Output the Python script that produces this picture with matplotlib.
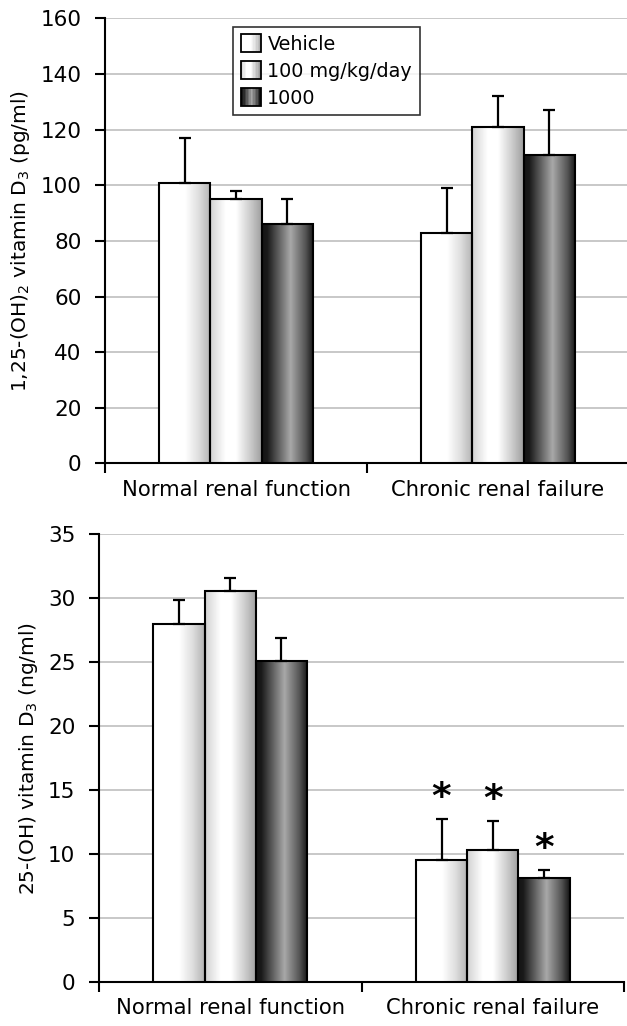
import numpy as np
import matplotlib
matplotlib.use("Agg")
import matplotlib.pyplot as plt
from matplotlib.patches import Rectangle
from matplotlib.legend_handler import HandlerBase

# ---------------- data ----------------
categories = ["Normal renal function", "Chronic renal failure"]
series = ["Vehicle", "100 mg/kg/day", "1000"]

# top panel: 1,25-(OH)2 vitamin D3 (pg/ml)
top_vehicle = [101, 83]
top_100 = [95, 121]
top_1000 = [86, 111]
top_vehicle_err = [16, 16]
top_100_err = [3, 11]
top_1000_err = [9, 16]

# bottom panel: 25-(OH) vitamin D3 (ng/ml)
bot_vehicle = [28.0, 9.5]
bot_100 = [30.6, 10.3]
bot_1000 = [25.1, 8.1]
bot_vehicle_err = [1.9, 3.2]
bot_100_err = [1.0, 2.3]
bot_1000_err = [1.8, 0.6]
# significance markers (1 = marked)
bot_vehicle_sig = [0, 1]
bot_100_sig = [0, 1]
bot_1000_sig = [0, 1]

# ---------------- styling ----------------
grad_profiles = {
    "Vehicle": ([0.0, 0.5, 0.75, 1.0], [1.0, 1.0, 0.88, 0.70]),
    "100 mg/kg/day": ([0.0, 0.3, 0.5, 0.8, 1.0], [0.82, 1.0, 1.0, 0.78, 0.62]),
    "1000": ([0.0, 0.1, 0.55, 0.85, 1.0], [0.08, 0.10, 0.66, 0.32, 0.08]),
}


def gradient_row(name, n=120):
    xs, vs = grad_profiles[name]
    t = np.linspace(0, 1, n)
    return np.interp(t, xs, vs)


plt.rcParams["font.family"] = ["DejaVu Sans"]

fig = plt.figure(figsize=(6.27, 10.26), dpi=100)
ax_top = fig.add_axes([105 / 627, 0.5484, 524 / 627, 0.4336])
ax_bot = fig.add_axes([99 / 627, 0.0432, 525 / 627, 0.4360])

width = 0.195
offsets = [-width, 0, width]


def draw_panel(ax, vals, errs, ymax, ystep, ylabel, sigs=None):
    x = np.arange(len(categories)) + 0.5
    for i, name in enumerate(series):
        xs = x + offsets[i]
        bars = ax.bar(xs, vals[i], width, facecolor="none", edgecolor="black",
                      linewidth=1.5, zorder=4)
        img = np.tile(gradient_row(name), (2, 1))
        for rect in bars:
            x0 = rect.get_x()
            w = rect.get_width()
            h = rect.get_height()
            ax.imshow(img, cmap="gray", vmin=0, vmax=1, aspect="auto",
                      extent=[x0, x0 + w, 0, h], zorder=3, interpolation="bilinear")
        ax.errorbar(xs, vals[i], yerr=[np.zeros(len(errs[i])), errs[i]],
                    fmt="none", ecolor="black", elinewidth=1.6, capsize=4,
                    capthick=1.6, zorder=5)
        if sigs is not None:
            for xx, v, e, s in zip(xs, vals[i], errs[i], sigs[i]):
                if s:
                    ax.annotate("*", (xx, v + e), xytext=(0, 8),
                                textcoords="offset points", ha="center",
                                va="baseline", fontsize=27, fontweight="bold",
                                zorder=6)
    ax.set_xlim(0, 2)
    ax.set_ylim(0, ymax)
    ax.set_yticks(np.arange(0, ymax + ystep / 2, ystep))
    ax.yaxis.grid(True, color="#c4c4c4", linewidth=1.3, zorder=0)
    ax.set_axisbelow(True)
    ax.spines["top"].set_visible(False)
    ax.spines["right"].set_visible(False)
    ax.spines["left"].set_linewidth(1.5)
    ax.spines["bottom"].set_linewidth(1.5)
    ax.set_xticks(x)
    ax.set_xticklabels(categories, fontsize=15.2)
    ax.set_xticks([0, 1, 2], minor=True)
    ax.tick_params(axis="x", which="major", length=0, pad=12)
    ax.tick_params(axis="x", which="minor", length=7, width=1.5, direction="out")
    ax.tick_params(axis="y", length=7, width=1.5, pad=10, labelsize=15.5)
    ax.set_ylabel(ylabel, fontsize=14.5, labelpad=6)


draw_panel(ax_top, [top_vehicle, top_100, top_1000],
           [top_vehicle_err, top_100_err, top_1000_err], 160, 20,
           r"1,25-(OH)$_2$ vitamin D$_3$ (pg/ml)")
draw_panel(ax_bot, [bot_vehicle, bot_100, bot_1000],
           [bot_vehicle_err, bot_100_err, bot_1000_err], 35, 5,
           r"25-(OH) vitamin D$_3$ (ng/ml)",
           sigs=[bot_vehicle_sig, bot_100_sig, bot_1000_sig])


class GradientHandler(HandlerBase):
    def __init__(self, name):
        super().__init__()
        self.name = name

    def create_artists(self, legend, orig_handle, xdescent, ydescent, width,
                       height, fontsize, trans):
        g = gradient_row(self.name, 14)
        artists = []
        w = width
        h = height * 1.35
        x0 = -xdescent
        y0 = -ydescent - (h - height) / 2
        n = len(g)
        for k, v in enumerate(g):
            artists.append(Rectangle((x0 + k * w / n, y0), w / n + 0.2, h,
                                     facecolor=str(v), edgecolor="none",
                                     transform=trans))
        artists.append(Rectangle((x0, y0), w, h, facecolor="none",
                                 edgecolor="black", linewidth=1.3, transform=trans))
        return artists


handles = [Rectangle((0, 0), 1, 1) for _ in series]
leg = ax_top.legend(handles, series, loc="upper left",
                    bbox_to_anchor=(0.244, 0.981), borderaxespad=0,
                    fontsize=13.8, frameon=True, fancybox=False,
                    handlelength=1.05, handletextpad=0.35, labelspacing=0.42,
                    borderpad=0.4,
                    handler_map={h: GradientHandler(n) for h, n in zip(handles, series)})
leg.get_frame().set_edgecolor("black")
leg.get_frame().set_linewidth(1.2)
leg.set_zorder(10)

fig.savefig("out.png", dpi=100)
